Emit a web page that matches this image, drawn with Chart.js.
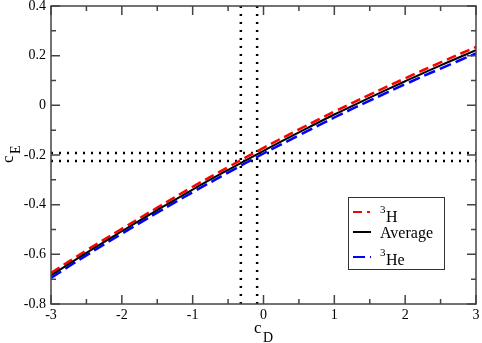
<!DOCTYPE html>
<html>
<head>
<meta charset="utf-8">
<script src="https://cdn.jsdelivr.net/npm/chart.js@4/dist/chart.umd.min.js"></script>
<style>
  html, body { margin: 0; padding: 0; background: #fff; }
</style>
</head>
<body>
<canvas id="chart" width="482" height="343"></canvas>
<script>
// valores
const cD = [-3, -2.5, -2, -1.5, -1, -0.5, 0, 0.5, 1, 1.5, 2, 2.5, 3];
const cE_3H = [-0.675, -0.584, -0.497, -0.412, -0.328, -0.249, -0.171, -0.097, -0.025, 0.043, 0.109, 0.173, 0.235];
const cE_avg = [-0.685, -0.594, -0.507, -0.422, -0.339, -0.260, -0.183, -0.109, -0.037, 0.031, 0.097, 0.161, 0.222];
const cE_3He = [-0.695, -0.604, -0.517, -0.432, -0.350, -0.271, -0.194, -0.121, -0.049, 0.019, 0.085, 0.148, 0.209];

// lineas punteadas de referencia
const refCD = [-0.32, -0.09];
const refCE = [-0.192, -0.224];

const xTicks = [-3, -2, -1, 0, 1, 2, 3];
const yTicks = [-0.8, -0.6, -0.4, -0.2, 0, 0.2, 0.4];
const xTickLabels = ["-3", "-2", "-1", "0", "1", "2", "3"];
const yTickLabels = ["-0.8", "-0.6", "-0.4", "-0.2", "0", "0.2", "0.4"];

const SERIF = "'Liberation Serif', 'Times New Roman', serif";

function pts(ys) {
  return cD.map((x, i) => ({ x: x, y: ys[i] }));
}

const dotted = [];
refCD.forEach(v => {
  dotted.push({
    data: [{ x: v, y: yTicks[0] }, { x: v, y: yTicks[yTicks.length - 1] }],
    borderColor: "#000", borderWidth: 2.5, borderDash: [2, 6], pointRadius: 0, order: 3
  });
});
refCE.forEach(v => {
  dotted.push({
    data: [{ x: xTicks[0], y: v }, { x: xTicks[xTicks.length - 1], y: v }],
    borderColor: "#000", borderWidth: 2.5, borderDash: [2, 6], pointRadius: 0, order: 3
  });
});

// ticks hacia adentro, etiquetas, marco, titulos y leyenda
const gracePlugin = {
  id: "grace",
  afterDraw(chart) {
    const ctx = chart.ctx;
    const a = chart.chartArea;
    const xs = chart.scales.x, ys = chart.scales.y;
    ctx.save();
    ctx.strokeStyle = "#444";
    ctx.lineWidth = 1.5;
    ctx.setLineDash([]);
    ctx.strokeRect(a.left, a.top, a.right - a.left, a.bottom - a.top);

    const major = 9, minor = 5;
    ctx.beginPath();
    xTicks.forEach((t, i) => {
      const px = xs.getPixelForValue(t);
      ctx.moveTo(px, a.bottom); ctx.lineTo(px, a.bottom - major);
      ctx.moveTo(px, a.top); ctx.lineTo(px, a.top + major);
      if (i < xTicks.length - 1) {
        const m = xs.getPixelForValue((t + xTicks[i + 1]) / 2);
        ctx.moveTo(m, a.bottom); ctx.lineTo(m, a.bottom - minor);
        ctx.moveTo(m, a.top); ctx.lineTo(m, a.top + minor);
      }
    });
    yTicks.forEach((t, i) => {
      const py = ys.getPixelForValue(t);
      ctx.moveTo(a.left, py); ctx.lineTo(a.left + major, py);
      ctx.moveTo(a.right, py); ctx.lineTo(a.right - major, py);
      if (i < yTicks.length - 1) {
        const m = ys.getPixelForValue((t + yTicks[i + 1]) / 2);
        ctx.moveTo(a.left, m); ctx.lineTo(a.left + minor, m);
        ctx.moveTo(a.right, m); ctx.lineTo(a.right - minor, m);
      }
    });
    ctx.stroke();

    // etiquetas de ticks
    ctx.fillStyle = "#000";
    ctx.font = "14px " + SERIF;
    ctx.textAlign = "center";
    ctx.textBaseline = "top";
    xTicks.forEach((t, i) => {
      ctx.fillText(xTickLabels[i], xs.getPixelForValue(t), a.bottom + 4);
    });
    ctx.textAlign = "right";
    ctx.textBaseline = "middle";
    yTicks.forEach((t, i) => {
      ctx.fillText(yTickLabels[i], a.left - 5, ys.getPixelForValue(t));
    });

    // titulos de ejes
    ctx.textBaseline = "alphabetic";
    ctx.textAlign = "left";
    ctx.font = "17px " + SERIF;
    ctx.fillText("c", 254, 333);
    ctx.font = "14px " + SERIF;
    ctx.fillText("D", 263, 342);

    ctx.save();
    ctx.translate(13, 163);
    ctx.rotate(-Math.PI / 2);
    ctx.font = "17px " + SERIF;
    ctx.fillText("c", 0, 0);
    ctx.font = "14px " + SERIF;
    ctx.fillText("E", 9, 7);
    ctx.restore();

    // leyenda
    ctx.strokeStyle = "#333";
    ctx.lineWidth = 1;
    ctx.strokeRect(348.5, 197.5, 96, 72);

    const items = [
      { color: "#ff0000", dash: [9, 5, 3, 5], y: 212, sup: "3", text: "H", base: 222 },
      { color: "#000000", dash: [], y: 232, sup: "", text: "Average", base: 238 },
      { color: "#0000ff", dash: [12, 5], y: 257, sup: "3", text: "He", base: 265 }
    ];
    items.forEach(it => {
      ctx.beginPath();
      ctx.strokeStyle = it.color;
      ctx.lineWidth = 2;
      ctx.setLineDash(it.dash);
      ctx.moveTo(353, it.y);
      ctx.lineTo(371, it.y);
      ctx.stroke();
      ctx.setLineDash([]);
      let x = 380;
      if (it.sup) {
        ctx.font = "11px " + SERIF;
        ctx.fillText(it.sup, x, it.base - 9);
        x += 6;
      }
      ctx.font = "16px " + SERIF;
      ctx.fillText(it.text, x, it.base);
    });
    ctx.restore();
  }
};

new Chart(document.getElementById("chart"), {
  type: "line",
  data: {
    datasets: [
      { label: "3H", data: pts(cE_3H), borderColor: "#ff0000", borderWidth: 2.5, borderDash: [10, 5], pointRadius: 0, tension: 0.4, order: 1 },
      { label: "Average", data: pts(cE_avg), borderColor: "#000000", borderWidth: 2, pointRadius: 0, tension: 0.4, order: 0 },
      { label: "3He", data: pts(cE_3He), borderColor: "#0000ff", borderWidth: 2.5, borderDash: [12, 5], pointRadius: 0, tension: 0.4, order: 2 },
      ...dotted
    ]
  },
  options: {
    responsive: false,
    animation: false,
    layout: { padding: { top: 6, right: 6, left: 0, bottom: 0 } },
    plugins: { legend: { display: false }, tooltip: { enabled: false } },
    scales: {
      x: {
        type: "linear",
        min: -3, max: 3,
        afterFit: s => { s.height = 39; },
        grid: { display: false, drawTicks: false },
        border: { display: false },
        ticks: { display: false, stepSize: 1 }
      },
      y: {
        min: -0.8, max: 0.4,
        afterFit: s => { s.width = 51; },
        grid: { display: false, drawTicks: false },
        border: { display: false },
        ticks: { display: false, stepSize: 0.2 }
      }
    }
  },
  plugins: [gracePlugin]
});
</script>
</body>
</html>
